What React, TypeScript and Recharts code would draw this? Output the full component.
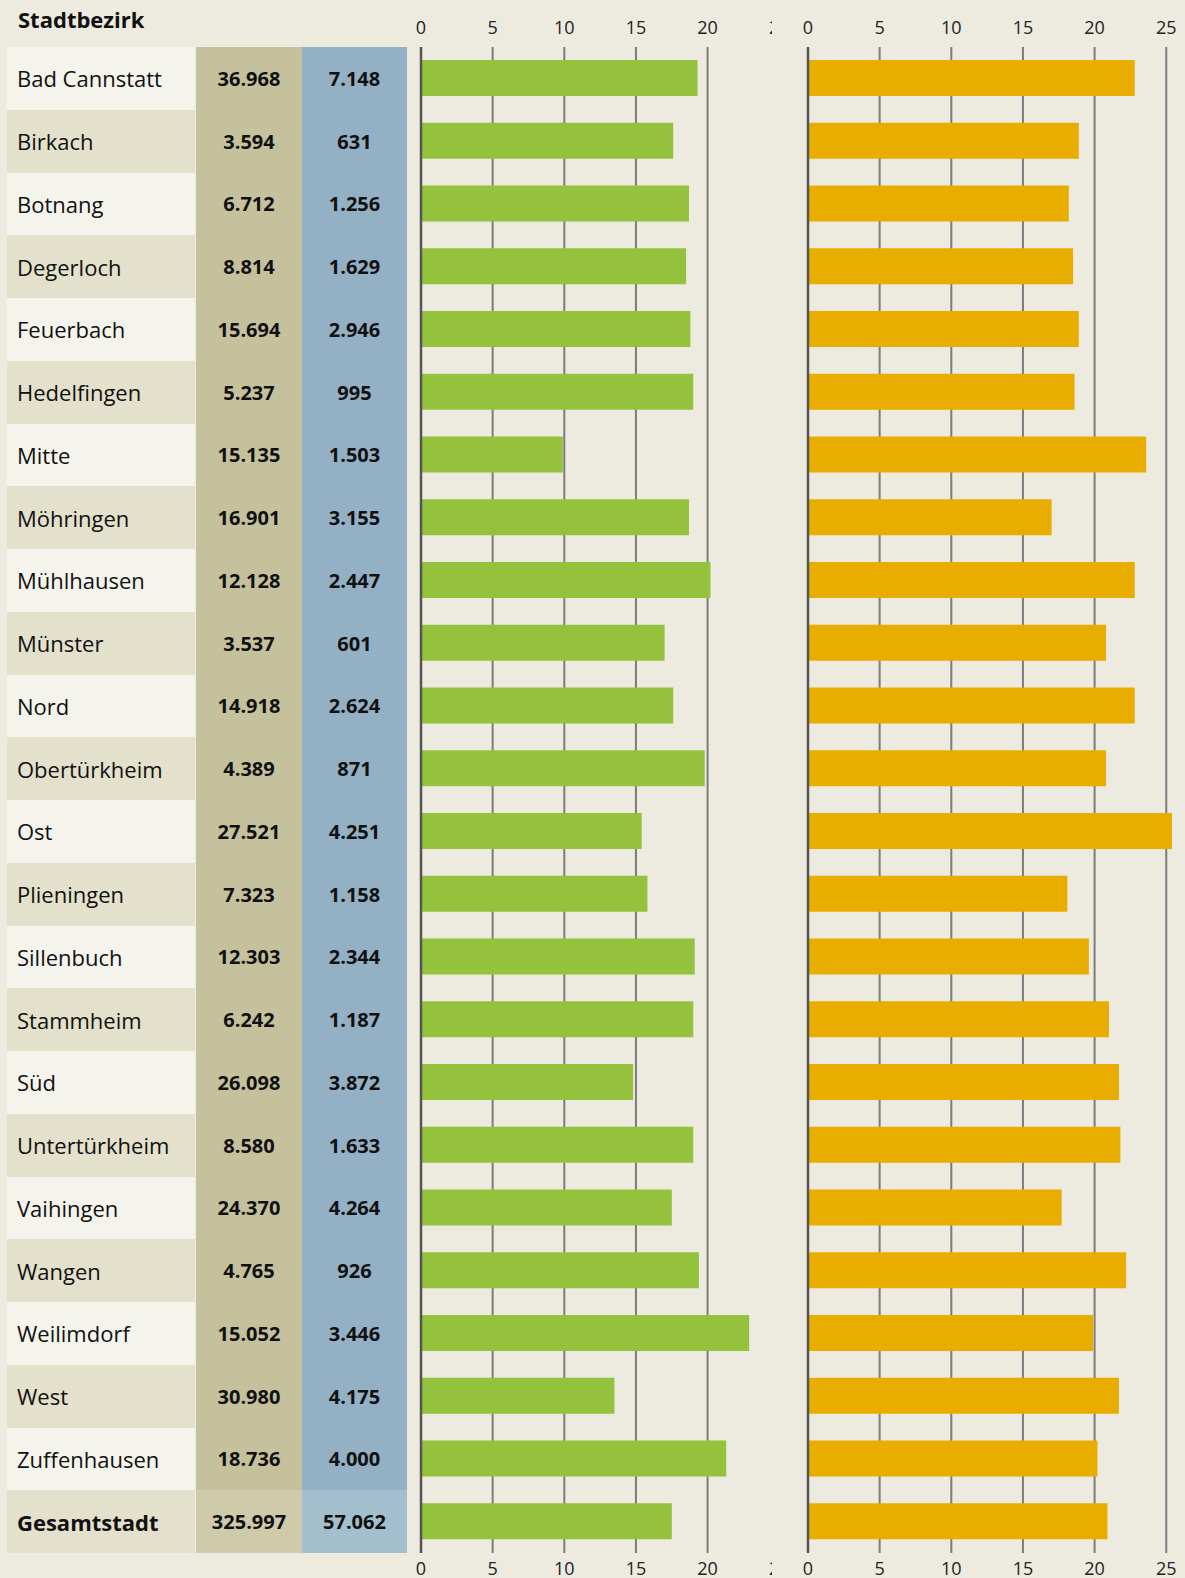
import React from "react";
import { BarChart, Bar, XAxis, YAxis, CartesianGrid, ReferenceLine } from "recharts";

const districts = [
  "Bad Cannstatt", "Birkach", "Botnang", "Degerloch", "Feuerbach", "Hedelfingen",
  "Mitte", "Möhringen", "Mühlhausen", "Münster", "Nord", "Obertürkheim", "Ost",
  "Plieningen", "Sillenbuch", "Stammheim", "Süd", "Untertürkheim", "Vaihingen",
  "Wangen", "Weilimdorf", "West", "Zuffenhausen", "Gesamtstadt",
];
const totals = [
  36968, 3594, 6712, 8814, 15694, 5237, 15135, 16901, 12128, 3537, 14918, 4389,
  27521, 7323, 12303, 6242, 26098, 8580, 24370, 4765, 15052, 30980, 18736, 325997,
];
const subgroup = [
  7148, 631, 1256, 1629, 2946, 995, 1503, 3155, 2447, 601, 2624, 871,
  4251, 1158, 2344, 1187, 3872, 1633, 4264, 926, 3446, 4175, 4000, 57062,
];
const greenShare = [
  19.3, 17.6, 18.7, 18.5, 18.8, 19.0, 9.9, 18.7, 20.2, 17.0, 17.6, 19.8,
  15.4, 15.8, 19.1, 19.0, 14.8, 19.0, 17.5, 19.4, 22.9, 13.5, 21.3, 17.5,
];
const orangeShare = [
  22.8, 18.9, 18.2, 18.5, 18.9, 18.6, 23.6, 17.0, 22.8, 20.8, 22.8, 20.8,
  25.4, 18.1, 19.6, 21.0, 21.7, 21.8, 17.7, 22.2, 19.9, 21.7, 20.2, 20.9,
];
const axisTicks = [0, 5, 10, 15, 20, 25];

const data = districts.map((name, i) => ({
  name,
  green: greenShare[i],
  orange: orangeShare[i],
}));

const FONT = "'Open Sans', 'Noto Sans', sans-serif";
const TOP = 47;
const ROW_H = 62.75;
const PX_PER_UNIT = 14.33;

const fmt = (n: number) => String(n).replace(/\B(?=(\d{3})+(?!\d))/g, ".");

const TopTick = ({ x, payload }: any) => (
  <text x={x} y={34} textAnchor="middle" fontSize={18} fill="#222" fontFamily={FONT}>
    {payload.value}
  </text>
);
const BottomTick = ({ x, payload }: any) => (
  <text x={x} y={1575} textAnchor="middle" fontSize={18} fill="#222" fontFamily={FONT}>
    {payload.value}
  </text>
);

function Panel({ dataKey, color, max, width }: { dataKey: string; color: string; max: number; width: number }) {
  return (
    <BarChart
      layout="vertical"
      width={width}
      height={1578}
      data={data}
      margin={{ top: 0, right: width - 10 - max * PX_PER_UNIT, left: 10, bottom: 0 }}
    >
      <XAxis
        xAxisId="top"
        type="number"
        orientation="top"
        domain={[0, max]}
        ticks={axisTicks}
        allowDataOverflow
        height={TOP}
        axisLine={false}
        tickLine={false}
        tick={<TopTick />}
        interval={0}
      />
      <XAxis
        xAxisId="bottom"
        type="number"
        orientation="bottom"
        domain={[0, max]}
        ticks={axisTicks}
        allowDataOverflow
        height={1578 - TOP - ROW_H * 24}
        axisLine={false}
        tickLine={false}
        tick={<BottomTick />}
        interval={0}
      />
      <YAxis type="category" dataKey="name" hide />
      {/* gridlines behind the bars, only at the labelled ticks */}
      <CartesianGrid
        xAxisId="top"
        horizontal={false}
        verticalValues={axisTicks}
        stroke="#7c7c7c"
        strokeWidth={2}
      />
      <Bar xAxisId="top" dataKey={dataKey} fill={color} barSize={36} isAnimationActive={false} />
      <ReferenceLine xAxisId="top" x={0} stroke="#555" strokeWidth={2.5} />
    </BarChart>
  );
}

export default function App() {
  return (
    <div
      style={{
        position: "absolute",
        left: 0,
        top: 0,
        width: 1185,
        height: 1578,
        background: "#edeadf",
        fontFamily: FONT,
        overflow: "hidden",
      }}
    >
      <div style={{ position: "absolute", left: 18, top: 4, fontSize: 22, fontWeight: 700, color: "#111" }}>
        Stadtbezirk
      </div>
      {districts.map((name, i) => {
        const top = TOP + i * ROW_H;
        const isTotal = i === districts.length - 1;
        const cell: React.CSSProperties = {
          position: "absolute",
          top,
          height: ROW_H,
          display: "flex",
          alignItems: "center",
          color: "#111",
        };
        return (
          <React.Fragment key={name}>
            <div
              style={{
                ...cell,
                left: 7,
                width: 188,
                paddingLeft: 10,
                boxSizing: "border-box",
                background: i % 2 === 0 ? "#f5f4ec" : "#e3e0cb",
                fontSize: 22,
                fontWeight: isTotal ? 700 : 400,
              }}
            >
              {name}
            </div>
            <div
              style={{
                ...cell,
                left: 196,
                width: 106,
                justifyContent: "center",
                background: isTotal ? "#cfcaa9" : "#c5c19d",
                fontSize: 20,
                fontWeight: 700,
              }}
            >
              {fmt(totals[i])}
            </div>
            <div
              style={{
                ...cell,
                left: 302,
                width: 105,
                justifyContent: "center",
                background: isTotal ? "#a3bfcd" : "#93b0c4",
                fontSize: 20,
                fontWeight: 700,
              }}
            >
              {fmt(subgroup[i])}
            </div>
          </React.Fragment>
        );
      })}
      {/* green panel is cut off just before its 25 tick, as in the original */}
      <div style={{ position: "absolute", left: 408, top: 0, width: 364, height: 1578, overflow: "hidden" }}>
        <div style={{ position: "absolute", left: 3, top: 0 }}>
          <Panel dataKey="green" color="#95c23d" max={25} width={380} />
        </div>
      </div>
      <div style={{ position: "absolute", left: 798, top: 0 }}>
        <Panel dataKey="orange" color="#e9ad00" max={26} width={387} />
      </div>
    </div>
  );
}
